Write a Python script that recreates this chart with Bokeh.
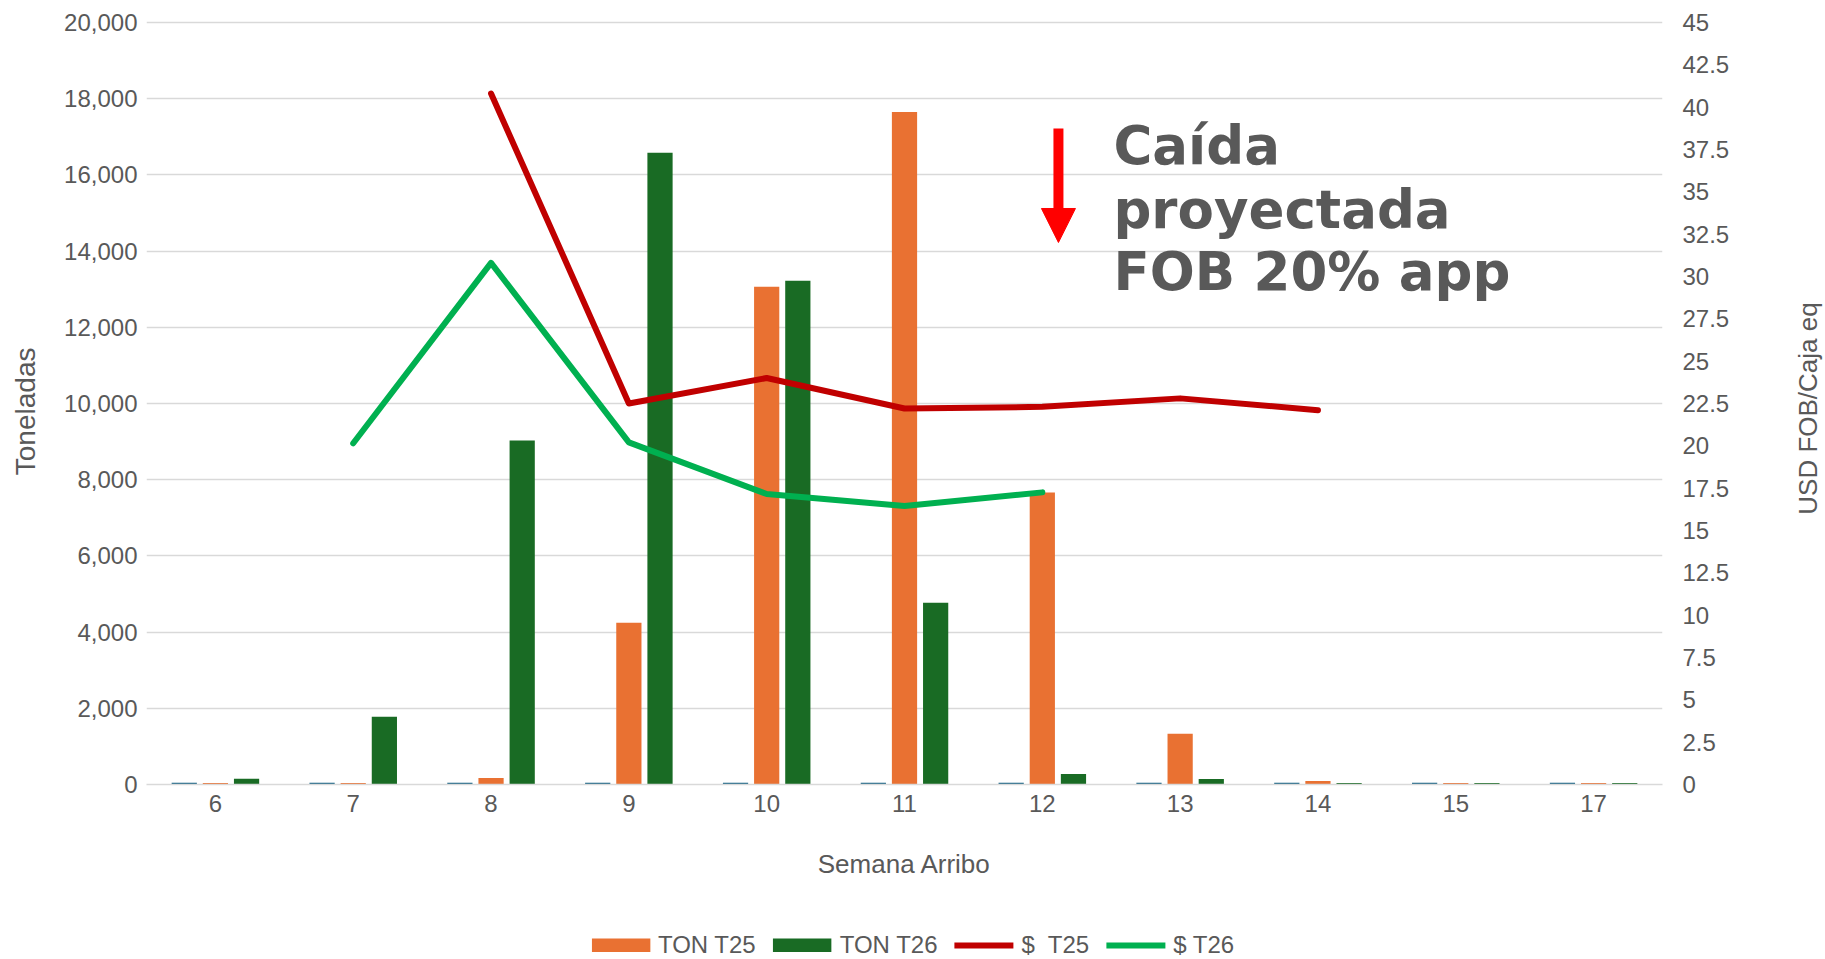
import math
from bokeh.plotting import figure
from bokeh.layouts import column, row
from bokeh.models import (Range1d, FactorRange, LinearAxis, SingleIntervalTicker,
                          NumeralTickFormatter, Legend, LegendItem, Arrow, NormalHead,
                          Label, ColumnDataSource)
from bokeh.transform import dodge
from bokeh.embed import file_html
from bokeh.resources import INLINE

# ---------------- data ----------------
weeks = ["6", "7", "8", "9", "10", "11", "12", "13", "14", "15", "17"]
ton_t24 = [45, 45, 45, 45, 45, 45, 45, 45, 45, 45, 45]
ton_t25 = [40, 40, 170, 4245, 13060, 17650, 7660, 1330, 90, 40, 40]
ton_t26 = [150, 1775, 9030, 16580, 13220, 4770, 275, 145, 40, 40, 40]
usd_t25 = [None, None, 40.8, 22.5, 24.0, 22.2, 22.3, 22.8, 22.1, None, None]
usd_t26 = [None, 20.15, 30.8, 20.2, 17.15, 16.45, 17.25, None, None, None, None]

left_title = "Toneladas"
right_title = "USD FOB/Caja eq"
x_title = "Semana Arribo"
note_lines = ["Caída", "proyectada", "FOB 20% app"]
legend_labels = ["TON T25", "TON T26", "$  T25", "$ T26"]

GREY = "#595959"
GRID = "#D9D9D9"
C_T24 = "#156082"
C_T25 = "#E97132"
C_T26 = "#196B24"
C_USD25 = "#C00000"
C_USD26 = "#00B050"
FONT = "Liberation Sans"
LW = 6

H_MAIN = 909
W_LEFT = 44
W_RIGHT = 36

bars = ColumnDataSource(dict(week=weeks, t24=ton_t24, t25=ton_t25, t26=ton_t26))
l25 = ColumnDataSource(dict(week=[w for w, v in zip(weeks, usd_t25) if v is not None],
                            v=[v for v in usd_t25 if v is not None]))
l26 = ColumnDataSource(dict(week=[w for w, v in zip(weeks, usd_t26) if v is not None],
                            v=[v for v in usd_t26 if v is not None]))

fig = figure(x_range=FactorRange(*weeks), y_range=Range1d(0, 20050),
             width=1825 - W_LEFT - W_RIGHT, height=H_MAIN, output_backend="svg",
             toolbar_location=None,
             min_border_left=146 - W_LEFT, min_border_right=127, min_border_top=20,
             min_border_bottom=125, outline_line_color=None)
fig.extra_y_ranges = {"usd": Range1d(0, 45.1125)}

bw = 0.183
off = 0.226
fig.vbar(x=dodge("week", -off, range=fig.x_range), top="t24", width=bw, source=bars,
         fill_color=C_T24, line_color=None)
fig.vbar(x=dodge("week", 0, range=fig.x_range), top="t25", width=bw, source=bars,
         fill_color=C_T25, line_color=None)
fig.vbar(x=dodge("week", off, range=fig.x_range), top="t26", width=bw, source=bars,
         fill_color=C_T26, line_color=None)

fig.line(x="week", y="v", source=l25, y_range_name="usd", line_color=C_USD25,
         line_width=LW, line_cap="round", line_join="round")
fig.line(x="week", y="v", source=l26, y_range_name="usd", line_color=C_USD26,
         line_width=LW, line_cap="round", line_join="round")

# ---------------- axes ----------------
fig.xgrid.grid_line_color = None
fig.ygrid.ticker = SingleIntervalTicker(interval=2000, num_minor_ticks=0)
fig.ygrid.grid_line_color = GRID
fig.ygrid.grid_line_width = 1.5

xa = fig.xaxis[0]
xa.axis_label = x_title
xa.axis_line_color = GRID
xa.axis_line_width = 1.5
xa.major_tick_line_color = None
xa.major_tick_out = 0
xa.major_label_standoff = 10
xa.axis_label_standoff = 34

ya = fig.yaxis[0]
ya.ticker = SingleIntervalTicker(interval=2000, num_minor_ticks=0)
ya.formatter = NumeralTickFormatter(format="0,0")
ya.axis_line_color = None
ya.major_tick_line_color = None
ya.minor_tick_line_color = None
ya.major_tick_out = 0
ya.major_label_standoff = 9

ra = LinearAxis(y_range_name="usd",
                ticker=SingleIntervalTicker(interval=2.5, num_minor_ticks=0),
                formatter=NumeralTickFormatter(format="0.[0]"))
ra.axis_line_color = None
ra.major_tick_line_color = None
ra.minor_tick_line_color = None
ra.major_tick_out = 0
ra.major_label_standoff = 20
fig.add_layout(ra, "right")

for ax in (xa, ya, ra):
    ax.major_label_text_font = FONT
    ax.major_label_text_font_size = "24px"
    ax.major_label_text_color = GREY
    ax.axis_label_text_font = FONT
    ax.axis_label_text_font_size = "26px"
    ax.axis_label_text_font_style = "normal"
    ax.axis_label_text_color = GREY

# ---------------- annotation ----------------
fig.add_layout(Arrow(end=NormalHead(size=34, fill_color="#FF0000", line_color="#FF0000", line_width=1),
                     x_start=6.617, y_start=17216, x_end=6.617, y_end=14224,
                     line_color="#FF0000", line_width=10))
for txt, yb in zip(note_lines, [16780, 15100, 13450]):
    fig.add_layout(Label(x=7.016, y=yb, text=txt, text_font="DejaVu Sans",
                         text_font_style="bold", text_font_size="53px", text_color=GREY,
                         text_align="left", text_baseline="alphabetic"))


def title_strip(width, text, x, y, size):
    s = figure(width=width, height=H_MAIN, x_range=Range1d(0, 1), y_range=Range1d(0, 1),
               x_axis_type=None, y_axis_type=None, min_border=0, outline_line_color=None,
               toolbar_location=None, output_backend="svg")
    s.add_layout(Label(x=x, y=y, text=text, angle=math.pi / 2,
                       text_align="left", text_baseline="middle",
                       text_font=FONT, text_font_size=size, text_color=GREY))
    return s


left_strip = title_strip(W_LEFT, left_title, 25 / W_LEFT, 1 - 541 / H_MAIN, "28px")
right_strip = title_strip(W_RIGHT, right_title, 0.5, 1 - 588 / H_MAIN, "26px")

# ---------------- legend strip ----------------
leg = figure(width=1825, height=959 - H_MAIN, x_range=Range1d(0, 1), y_range=Range1d(0, 1),
             x_axis_type=None, y_axis_type=None, min_border=0, outline_line_color=None,
             toolbar_location=None, output_backend="svg")
g1 = leg.line(x=[5, 6], y=[5, 5], line_color=C_T25, line_width=14, line_cap="butt")
g2 = leg.line(x=[5, 6], y=[5, 5], line_color=C_T26, line_width=14, line_cap="butt")
g3 = leg.line(x=[5, 6], y=[5, 5], line_color=C_USD25, line_width=LW, line_cap="round")
g4 = leg.line(x=[5, 6], y=[5, 5], line_color=C_USD26, line_width=LW, line_cap="round")
legend = Legend(items=[LegendItem(label=lab, renderers=[g])
                       for lab, g in zip(legend_labels, [g1, g2, g3, g4])],
                orientation="horizontal", location="bottom_center",
                label_text_font=FONT, label_text_font_size="24px", label_text_color=GREY,
                glyph_width=59, glyph_height=14, label_standoff=8, spacing=17,
                padding=0, margin=0, border_line_alpha=0, background_fill_alpha=0)
leg.add_layout(legend)

p = column(row(left_strip, fig, right_strip), leg)
open("out.html", "w").write(file_html(p, INLINE))
